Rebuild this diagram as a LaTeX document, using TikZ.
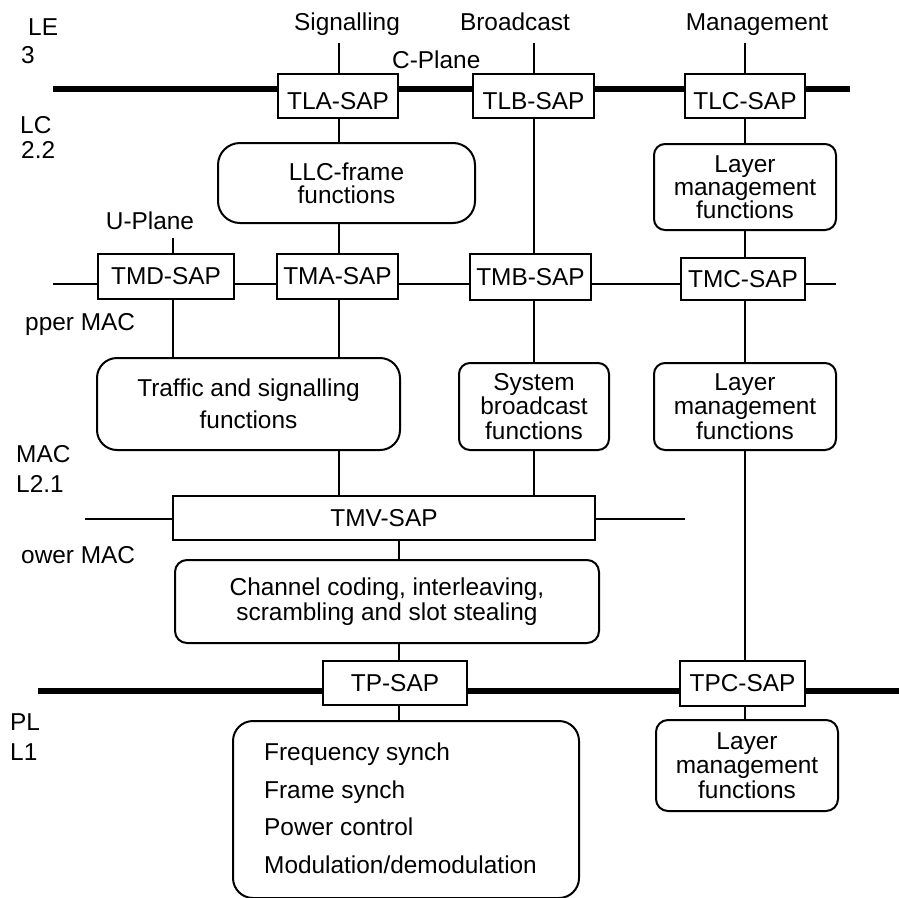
\documentclass[tikz,border=0pt]{standalone}
\usepackage{fontspec}
\setmainfont{Liberation Sans}
\begin{document}
\begin{tikzpicture}[x=1pt,y=-1pt,
  font=\fontsize{24.4}{24.5}\selectfont,
  sap/.style={draw, line width=2pt, fill=white, inner sep=0pt, minimum height=44pt},
  toprow/.style={text height=27.5pt, text depth=0pt},
  fbox/.style={draw, line width=2pt, fill=white, rounded corners=#1, inner sep=0pt, align=center},
  fbox/.default=11pt,
  conn/.style={line width=2pt},
  thinline/.style={line width=1.2pt},
  thickA/.style={line width=5.5pt},
  thickB/.style={line width=6.5pt},
  lbl/.style={inner sep=0pt, anchor=base west},
  ttl/.style={inner sep=0pt, anchor=base}]
\useasboundingbox (0,0) rectangle (899,897);

% layer labels
\node[lbl] (le) at (28,35) {LE};
\node[lbl] (le3) at (21,63) {3};
\node[lbl] (lc) at (20,133) {LC};
\node[lbl] (lc22) at (21,158) {2.2};
\node[lbl] (upmac) at (25,330) {pper MAC};
\node[lbl] (mac) at (16,462) {MAC};
\node[lbl] (l21) at (16,492) {L2.1};
\node[lbl] (lowmac) at (21,563) {ower MAC};
\node[lbl] (pl) at (10,730) {PL};
\node[lbl] (l1) at (10,760) {L1};

% column titles
\node[ttl] (tsig) at (347,30) {Signalling};
\node[ttl] (tbc) at (515,30) {Broadcast};
\node[ttl] (tmg) at (757,30) {Management};
\node[lbl] (cplane) at (392,68) {C-Plane};
\node[ttl] (uplane) at (150,229) {U-Plane};

% helper coordinates
\coordinate (sigtop) at (339,43);
\coordinate (bctop) at (534,43);
\coordinate (mgtop) at (745,43);
\coordinate (uptop) at (173,238);
\coordinate (phx) at (399,0);
\coordinate (topL) at (53,89);
\coordinate (topR) at (850,89);
\coordinate (midL) at (53,284);
\coordinate (midR) at (836,284);
\coordinate (tmvL) at (85,519);
\coordinate (tmvR) at (685,519);
\coordinate (botL) at (38,691);
\coordinate (botR) at (899,691);

% SAP boxes
\node[sap, toprow, minimum width=120pt] (TLA) at (338,96) {TLA-SAP};
\node[sap, toprow, minimum width=121pt] (TLB) at (533.5,96) {TLB-SAP};
\node[sap, toprow, minimum width=120pt] (TLC) at (745,96) {TLC-SAP};
\node[sap, minimum width=136pt, minimum height=45pt] (TMD) at (166,276.5) {TMD-SAP};
\node[sap, minimum width=121pt, minimum height=45pt] (TMA) at (337.5,276.5) {TMA-SAP};
\node[sap, minimum width=121pt, minimum height=46pt] (TMB) at (530.5,277) {TMB-SAP};
\node[sap, minimum width=124pt, minimum height=42pt] (TMC) at (743,279) {TMC-SAP};
\node[sap, minimum width=422pt] (TMV) at (384,518) {TMV-SAP};
\node[sap, minimum width=144pt] (TP) at (395,683) {TP-SAP};
\node[sap, minimum width=125pt, minimum height=45pt] (TPC) at (742.5,683.5) {TPC-SAP};

% function boxes
\node[fbox=22pt, minimum width=257pt, minimum height=80pt, font=\fontsize{24.4}{23}\selectfont] (LLC) at (346.5,183) {LLC-frame\\functions};
\node[fbox, minimum width=182pt, minimum height=86pt, font=\fontsize{24.4}{23}\selectfont] (LM1) at (745,187) {Layer\\management\\functions};
\node[fbox=20pt, minimum width=303pt, minimum height=92pt, font=\fontsize{24.4}{32}\selectfont] (TRF) at (248.5,404) {Traffic and signalling\\functions};
\node[fbox, minimum width=150pt, minimum height=87pt] (SYS) at (534,406.5) {System\\broadcast\\functions};
\node[fbox, minimum width=182pt, minimum height=87pt] (LM2) at (745,406.5) {Layer\\management\\functions};
\node[fbox=12pt, minimum width=424pt, minimum height=83pt] (CHC) at (387,601.5) {Channel coding, interleaving,\\scrambling and slot stealing};
\node[fbox=20pt, minimum width=346pt, minimum height=177pt] (FRQ) at (406,809.5) {};
\node[fbox=12pt, minimum width=182pt, minimum height=91pt] (LM3) at (747,765.5) {Layer\\management\\functions};

\node[lbl] (f1) at (264,760) {Frequency synch};
\node[lbl] (f2) at (264,798) {Frame synch};
\node[lbl] (f3) at (264,835) {Power control};
\node[lbl] (f4) at (264,873) {Modulation/demodulation};

% signalling column
\draw[conn] (sigtop) -- (TLA.north -| sigtop);
\draw[conn] (TLA.south -| sigtop) -- (LLC.north -| sigtop);
\draw[conn] (LLC.south -| sigtop) -- (TMA.north -| sigtop);
\draw[conn] (TMA.south -| sigtop) -- (TRF.north -| sigtop);
\draw[conn] (TRF.south -| sigtop) -- (TMV.north -| sigtop);
% broadcast column
\draw[conn] (bctop) -- (TLB.north -| bctop);
\draw[conn] (TLB.south -| bctop) -- (TMB.north -| bctop);
\draw[conn] (TMB.south -| bctop) -- (SYS.north -| bctop);
\draw[conn] (SYS.south -| bctop) -- (TMV.north -| bctop);
% management column
\draw[conn] (mgtop) -- (TLC.north -| mgtop);
\draw[conn] (TLC.south -| mgtop) -- (LM1.north -| mgtop);
\draw[conn] (LM1.south -| mgtop) -- (TMC.north -| mgtop);
\draw[conn] (TMC.south -| mgtop) -- (LM2.north -| mgtop);
\draw[conn] (LM2.south -| mgtop) -- (TPC.north -| mgtop);
\draw[conn] (TPC.south -| mgtop) -- (LM3.north -| mgtop);
% U-plane
\draw[conn] (uptop) -- (TMD.north -| uptop);
\draw[conn] (TMD.south -| uptop) -- (TRF.north -| uptop);
% physical path
\draw[conn] (TMV.south -| phx) -- (CHC.north -| phx);
\draw[conn] (CHC.south -| phx) -- (TP.north -| phx);
\draw[conn] (TP.south -| phx) -- (FRQ.north -| phx);

% layer boundaries
\draw[thickA] (topL) -- (TLA.west |- topL);
\draw[thickA] (TLA.east |- topL) -- (TLB.west |- topL);
\draw[thickA] (TLB.east |- topL) -- (TLC.west |- topL);
\draw[thickA] (TLC.east |- topL) -- (topR);

\draw[thinline] (midL) -- (TMD.west |- midL);
\draw[thinline] (TMD.east |- midL) -- (TMA.west |- midL);
\draw[thinline] (TMA.east |- midL) -- (TMB.west |- midL);
\draw[thinline] (TMB.east |- midL) -- (TMC.west |- midL);
\draw[thinline] (TMC.east |- midL) -- (midR);

\draw[thinline] (tmvL) -- (TMV.west |- tmvL);
\draw[thinline] (TMV.east |- tmvL) -- (tmvR);

\draw[thickB] (botL) -- (TP.west |- botL);
\draw[thickB] (TP.east |- botL) -- (TPC.west |- botL);
\draw[thickB] (TPC.east |- botL) -- (botR);
\end{tikzpicture}
\end{document}
